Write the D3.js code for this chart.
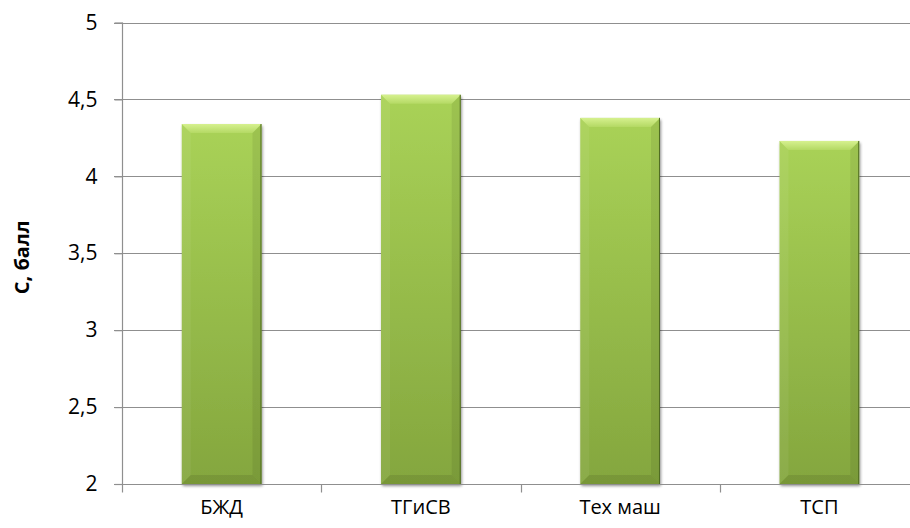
<!DOCTYPE html>
<html><head><meta charset="utf-8">
<script src="https://cdn.jsdelivr.net/npm/d3@7"></script>
<style>body{margin:0;background:#fff}svg{display:block}</style>
</head><body>
<script>
const categories = ["БЖД", "ТГиСВ", "Тех маш", "ТСП"];
const values = [4.34, 4.53, 4.38, 4.23];
const yTicks = [2, 2.5, 3, 3.5, 4, 4.5, 5];
const yTitle = "С, балл";

const W = 910, H = 528;
const svg = d3.select("body").append("svg").attr("width", W).attr("height", H);
const defs = svg.append("defs");
const g1 = defs.append("linearGradient").attr("id","face").attr("x1",0).attr("y1",0).attr("x2",0).attr("y2",1);
g1.append("stop").attr("offset","0%").attr("stop-color","#a9d257");
g1.append("stop").attr("offset","100%").attr("stop-color","#84a63e");
const g2 = defs.append("linearGradient").attr("id","topb").attr("x1",0).attr("y1",0).attr("x2",0).attr("y2",1);
g2.append("stop").attr("offset","0%").attr("stop-color","#d6f18f");
g2.append("stop").attr("offset","100%").attr("stop-color","#b4d964");
const sh = defs.append("filter").attr("id","sh").attr("x","-20%").attr("y","-5%").attr("width","140%").attr("height","115%");
sh.append("feGaussianBlur").attr("in","SourceAlpha").attr("stdDeviation",1.5);
sh.append("feOffset").attr("dx",1).attr("dy",1.5).attr("result","b");
sh.append("feComponentTransfer").append("feFuncA").attr("type","linear").attr("slope",0.45);
const fm = sh.append("feMerge"); fm.append("feMergeNode"); fm.append("feMergeNode").attr("in","SourceGraphic");

const x = d3.scaleBand().domain(categories).range([122, 919]).paddingInner(0.6).paddingOuter(0.3);
const y = d3.scaleLinear().domain([2, 5]).range([484, 22.5]);
const font = "'Open Sans', sans-serif";

// gridlines
svg.append("g").selectAll("line").data(yTicks.filter(d => d > 2)).join("line")
  .attr("x1", 114).attr("x2", W).attr("y1", d => Math.round(y(d)) + 0.5).attr("y2", d => Math.round(y(d)) + 0.5)
  .attr("stroke", "#8f8f8f").attr("stroke-width", 1.2);

// y axis
const yAxis = d3.axisLeft(y).tickValues(yTicks).tickSize(8).tickPadding(17)
  .tickFormat(d => d3.format("")(d).replace(".", ","));
const ya = svg.append("g").attr("transform", "translate(122.5,0)").call(yAxis);
ya.select(".domain").attr("stroke", "#8f8f8f").attr("stroke-width", 1.2).attr("d", "M0,22.5V484.5");
ya.selectAll(".tick line").attr("stroke", "#8f8f8f").attr("stroke-width", 1.2);
ya.selectAll(".tick text").attr("font-family", font).attr("font-size", 21).attr("fill", "#000");

// bars
const bw = x.bandwidth();
const bars = svg.append("g").selectAll("g").data(categories).join("g");
bars.each(function(c, i) {
  const gg = d3.select(this);
  const x0 = x(c), x1 = x0 + bw, y0 = y(values[i]), y1 = y(2);
  const b = 9;
  gg.append("rect").attr("x", x0).attr("y", y0).attr("width", bw).attr("height", y1 - y0)
    .attr("fill", "url(#face)").attr("filter", "url(#sh)");
  // top bevel
  gg.append("path").attr("d", `M${x0},${y0}L${x1},${y0}L${x1-b},${y0+b}L${x0+b},${y0+b}Z`)
    .attr("fill", "url(#topb)");
  // left bevel
  gg.append("path").attr("d", `M${x0},${y0}L${x0+b},${y0+b}L${x0+b},${y1-b}L${x0},${y1}Z`)
    .attr("fill", "#ffffff").attr("opacity", 0.06);
  // right bevel
  gg.append("path").attr("d", `M${x1},${y0}L${x1},${y1}L${x1-b},${y1-b}L${x1-b},${y0+b}Z`)
    .attr("fill", "#000").attr("opacity", 0.07);
  // bottom bevel
  gg.append("path").attr("d", `M${x0},${y1}L${x1},${y1}L${x1-b},${y1-b}L${x0+b},${y1-b}Z`)
    .attr("fill", "#000").attr("opacity", 0.09);
  // right dark edge
  gg.append("line").attr("x1", x1 - 0.5).attr("x2", x1 - 0.5).attr("y1", y0).attr("y2", y1)
    .attr("stroke", "#4f6a22").attr("stroke-width", 1);
});

// x axis
const xa = svg.append("g").attr("transform", "translate(0,484.5)");
xa.append("line").attr("x1", 114).attr("x2", W).attr("stroke", "#8f8f8f").attr("stroke-width", 1.2);
const step = x.step();
const bounds = d3.range(categories.length + 1).map(k => 122 + k * step);
xa.selectAll("line.t").data(bounds).join("line").attr("class", "t")
  .attr("x1", d => Math.round(d) + 0.5).attr("x2", d => Math.round(d) + 0.5).attr("y1", 0).attr("y2", 8)
  .attr("stroke", "#8f8f8f").attr("stroke-width", 1.2);
xa.selectAll("text").data(categories).join("text")
  .attr("x", d => x(d) + bw / 2).attr("y", 29).attr("text-anchor", "middle")
  .attr("font-family", font).attr("font-size", 20).attr("fill", "#000").text(d => d);

// y title
svg.append("text").attr("transform", `translate(29,${(y(2)+y(5))/2 + 4}) rotate(-90)`)
  .attr("text-anchor", "middle").attr("font-family", font).attr("font-weight", "bold")
  .attr("font-size", 20).attr("fill", "#000").text(yTitle);
</script>
</body></html>
